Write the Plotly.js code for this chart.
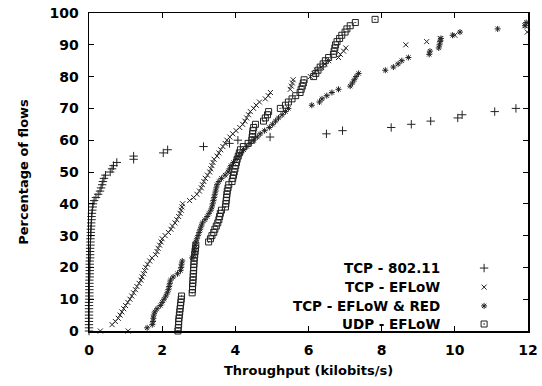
<!DOCTYPE html>
<html>
<head>
<meta charset="utf-8">
<script src="https://cdn.plot.ly/plotly-3.0.1.min.js"></script>
<style>html,body{margin:0;padding:0;background:#fff;}#chart{width:542px;height:386px;}</style>
</head>
<body>
<div id="chart"></div>
<script>
// ---- Data (x: throughput kbit/s, y: percentage of flows) ----
const seriesNames = ["TCP - 802.11", "TCP - EFLoW", "TCP - EFLoW & RED", "UDP - EFLoW"];

const tcp80211X = [0,0,0,0,0,0,0,0,0,0,0.01,0.01,0.01,0.01,0.01,0.01,0.01,0.02,0.02,0.02,0.02,0.02,0.02,0.03,0.03,0.03,0.03,0.04,0.04,0.04,0.05,0.05,0.05,0.06,0.06,0.07,0.07,0.08,0.09,0.10,0.11,0.14,0.19,0.25,0.30,0.33,0.36,0.38,0.41,0.45,0.58,0.63,0.67,0.76,1.22,1.22,2.03,2.15,3.13,3.84,4.07,4.95,6.49,6.93,8.26,8.81,9.34,10.08,10.20,11.09,11.67];
const tcp80211Y = [0,1,2,3,4,5,6,7,8,9,10,11,12,13,14,15,16,17,18,19,20,21,22,23,24,25,26,27,28,29,30,31,32,33,34,35,36,37,38,39,40,41,42,43,44,45,46,47,48,49,50,51,52,53,54,55,56,57,58,59,60,61,62,63,64,65,66,67,68,69,70];

const eflowX = [0.31,1.07,0.63,0.72,0.80,0.85,0.90,0.95,1.00,1.06,1.12,1.17,1.22,1.27,1.31,1.37,1.42,1.45,1.49,1.52,1.55,1.60,1.66,1.72,1.82,1.86,1.89,1.93,1.97,2.00,2.08,2.17,2.24,2.28,2.35,2.40,2.45,2.49,2.52,2.54,2.56,2.75,2.86,2.95,3.02,3.07,3.10,3.14,3.18,3.24,3.30,3.33,3.36,3.39,3.42,3.50,3.55,3.60,3.66,3.72,3.77,3.85,3.93,4.02,4.12,4.20,4.26,4.31,4.36,4.41,4.50,4.57,4.66,4.82,4.90,4.96,5.50,5.53,5.56,5.58,6.05,6.15,6.22,6.35,6.45,6.55,6.82,6.87,6.96,7.02,8.66,9.23,9.60,10.00,11.98,11.92];
const eflowY = [0,0,2,3,4,5,6,7,8,9,10,11,12,13,14,15,16,17,18,19,20,21,22,23,24,25,26,27,28,29,30,31,32,33,34,35,36,37,38,39,40,41,42,43,44,45,46,47,48,49,50,51,52,53,54,55,56,57,58,59,60,61,62,63,64,65,66,67,68,69,70,71,72,73,74,75,76,77,78,79,80,81,82,83,84,85,86,87,88,89,90,91,92,93,94,96];

const redX = [1.59,1.73,1.75,1.76,1.77,1.80,1.86,1.95,2.00,2.05,2.10,2.14,2.17,2.19,2.21,2.23,2.30,2.42,2.50,2.52,2.53,2.55,2.82,2.87,2.88,2.89,2.90,2.92,2.95,2.98,3.01,3.04,3.07,3.10,3.17,3.23,3.28,3.33,3.36,3.38,3.40,3.42,3.44,3.46,3.48,3.50,3.55,3.62,3.72,3.80,3.84,3.88,3.95,4.02,4.08,4.16,4.23,4.32,4.40,4.50,4.60,4.68,4.80,4.93,5.02,5.10,5.18,5.28,5.37,5.45,6.09,6.30,6.37,6.50,6.64,6.82,7.14,7.20,7.25,7.30,7.37,8.10,8.32,8.45,8.55,8.73,9.30,9.32,9.56,9.58,9.60,9.62,9.94,10.14,11.17,11.92,11.95];
const redY = [1,2,3,4,5,6,7,8,9,10,11,12,13,14,15,16,17,18,19,20,21,22,23,24,25,26,27,28,29,30,31,32,33,34,35,36,37,38,39,40,41,42,43,44,45,46,47,48,49,50,51,52,53,54,55,56,57,58,59,60,61,62,63,64,65,66,67,68,69,70,71,72,73,74,75,76,77,78,79,80,81,82,83,84,85,86,87,88,89,90,91,92,93,94,95,96,97];

const udpX = [2.43,2.44,2.45,2.45,2.46,2.47,2.48,2.49,2.50,2.51,2.52,2.53,2.82,2.83,2.83,2.84,2.84,2.85,2.85,2.86,2.86,2.87,2.87,2.88,2.89,2.90,2.91,2.92,3.27,3.32,3.36,3.41,3.44,3.48,3.52,3.55,3.57,3.59,3.62,3.73,3.74,3.75,3.76,3.77,3.78,3.80,3.82,3.91,3.93,3.95,3.97,3.99,4.01,4.03,4.05,4.08,4.11,4.14,4.22,4.35,4.45,4.46,4.47,4.48,4.50,4.55,4.77,4.82,4.88,4.91,5.23,5.37,5.45,5.55,5.65,5.77,5.80,5.83,5.86,5.88,6.14,6.20,6.26,6.32,6.40,6.46,6.55,6.68,6.70,6.72,6.74,6.78,6.85,6.91,7.00,7.05,7.14,7.28,7.82];
const udpY = [0,1,2,3,4,5,6,7,8,9,10,11,12,13,14,15,16,17,18,19,20,21,22,23,24,25,26,27,28,29,30,31,32,33,34,35,36,37,38,39,40,41,42,43,44,45,46,47,48,49,50,51,52,53,54,55,56,57,58,59,60,61,62,63,64,65,66,67,68,69,70,71,72,73,74,75,76,77,78,79,80,81,82,83,84,85,86,87,88,89,90,91,92,93,94,95,96,97,98];

const xTicks = [0, 2, 4, 6, 8, 10, 12];
const yTicks = [0, 10, 20, 30, 40, 50, 60, 70, 80, 90, 100];

// ---- Styles ----
const ink = '#222';
const markerStyles = [
  {symbol: 'cross-thin-open', size: 6, color: ink, line: {width: 1, color: ink}},
  {symbol: 'x-thin-open', size: 5, color: ink, line: {width: 1, color: ink}},
  {symbol: 'asterisk-open', size: 5, color: ink, line: {width: 1, color: ink}},
  {symbol: 'square-open-dot', size: 6, color: ink, line: {width: 1, color: ink}}
];
const seriesX = [tcp80211X, eflowX, redX, udpX];
const seriesY = [tcp80211Y, eflowY, redY, udpY];

const traces = seriesNames.map((name, i) => ({
  type: 'scatter', mode: 'markers', name: name,
  x: seriesX[i], y: seriesY[i],
  marker: markerStyles[i], cliponaxis: false, showlegend: false, hoverinfo: 'skip'
}));

// legend keys (gnuplot style: text right-aligned, symbol on the right), in an overlay 0..1 frame
const keyRowY = [0.198, 0.138, 0.079, 0.022];
const keyX = seriesNames.map(() => 0.90);
seriesNames.forEach((name, i) => {
  traces.push({
    type: 'scatter', mode: 'markers', x: [keyX[i]], y: [keyRowY[i]],
    xaxis: 'x2', yaxis: 'y2', marker: markerStyles[i], showlegend: false,
    hoverinfo: 'skip', cliponaxis: false
  });
});

const fam = 'DejaVu Sans, Liberation Sans, Arial, sans-serif';
const tickFont = {family: fam, size: 14, color: '#000', weight: 'bold'};
const titleFont = {family: fam, size: 13, color: '#000', weight: 'bold'};

const annotations = seriesNames.map((name, i) => ({
  xref: 'paper', yref: 'paper', x: 0.803, y: keyRowY[i],
  xanchor: 'right', yanchor: 'middle', text: name, showarrow: false,
  font: {family: fam, size: 13.5, color: '#000', weight: 'bold'}
}));

const axisCommon = {
  showgrid: false, zeroline: false, showline: true, linecolor: '#000', linewidth: 1.5,
  mirror: 'ticks', ticks: 'inside', ticklen: 5, tickwidth: 1, tickcolor: '#000',
  tickfont: tickFont
};

const layout = {
  width: 542, height: 386,
  margin: {l: 88.5, r: 14, t: 13, b: 55},
  paper_bgcolor: '#fff', plot_bgcolor: '#fff',
  showlegend: false,
  font: tickFont,
  xaxis: Object.assign({}, axisCommon, {
    range: [0, 12], tickvals: xTicks, ticktext: xTicks.map(String),
    ticklabelstandoff: 6,
    title: {text: 'Throughput (kilobits/s)', font: titleFont, standoff: 8}
  }),
  yaxis: Object.assign({}, axisCommon, {
    range: [0, 100], tickvals: yTicks, ticktext: yTicks.map(String),
    ticklabelstandoff: 6,
    title: {text: 'Percentage of flows', font: titleFont, standoff: 18}
  }),
  xaxis2: {overlaying: 'x', range: [0, 1], visible: false, fixedrange: true},
  yaxis2: {overlaying: 'y', range: [0, 1], visible: false, fixedrange: true},
  annotations: annotations
};

Plotly.newPlot('chart', traces, layout, {displayModeBar: false, staticPlot: true});
</script>
</body>
</html>
